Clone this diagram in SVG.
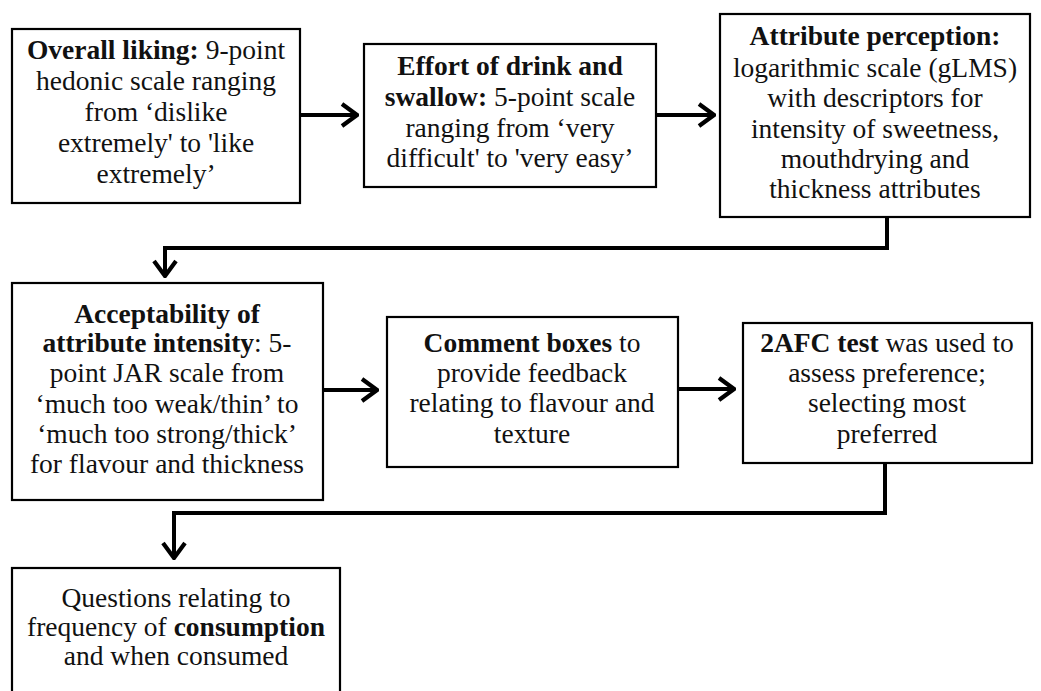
<svg xmlns="http://www.w3.org/2000/svg" width="1041" height="691" viewBox="0 0 1041 691">
<defs>
<style>
.box{fill:#fff;stroke:#000;stroke-width:2.2}
.t{font-family:"Liberation Serif","Times New Roman",serif;font-size:27.5px;fill:#111;text-anchor:middle}
.b{font-weight:bold}
.c{fill:none;stroke:#000;stroke-width:4}
</style>
<marker id="ah" viewBox="0 0 20 26" refX="18" refY="13" markerWidth="20" markerHeight="26" markerUnits="userSpaceOnUse" orient="auto">
<path d="M3,2 L18,13 L3,24" fill="none" stroke="#000" stroke-width="4.2"/>
</marker>
</defs>
<rect width="1041" height="691" fill="#fff"/>
<g id="connectors">
<line class="c" x1="300" y1="115" x2="357" y2="115" marker-end="url(#ah)"/>
<line class="c" x1="656" y1="115" x2="714" y2="115" marker-end="url(#ah)"/>
<path class="c" d="M887,217 V248 H165 V276" marker-end="url(#ah)"/>
<line class="c" x1="323" y1="390" x2="377" y2="390" marker-end="url(#ah)"/>
<line class="c" x1="678" y1="389" x2="734" y2="389" marker-end="url(#ah)"/>
<path class="c" d="M885,463 V513 H174 V558" marker-end="url(#ah)"/>
</g>
<g id="n1">
<rect class="box" x="12" y="29" width="288" height="174"/>
<text class="t" x="156" y="59"><tspan class="b">Overall liking:</tspan> 9-point</text>
<text class="t" x="156" y="90">hedonic scale ranging</text>
<text class="t" x="156" y="121">from ‘dislike</text>
<text class="t" x="156" y="152">extremely' to 'like</text>
<text class="t" x="156" y="183">extremely’</text>
</g>
<g id="n2">
<rect class="box" x="364" y="44" width="292" height="143"/>
<text class="t" x="510" y="75" font-weight="bold">Effort of drink and</text>
<text class="t" x="510" y="106"><tspan class="b">swallow:</tspan> 5-point scale</text>
<text class="t" x="510" y="137">ranging from ‘very</text>
<text class="t" x="510" y="167">difficult' to 'very easy’</text>
</g>
<g id="n3">
<rect class="box" x="720" y="14" width="310" height="203"/>
<text class="t" x="875" y="45" font-weight="bold">Attribute perception:</text>
<text class="t" x="875" y="77">logarithmic scale (gLMS)</text>
<text class="t" x="875" y="107">with descriptors for</text>
<text class="t" x="875" y="138">intensity of sweetness,</text>
<text class="t" x="875" y="168">mouthdrying and</text>
<text class="t" x="875" y="198">thickness attributes</text>
</g>
<g id="n4">
<rect class="box" x="12" y="283" width="311" height="217"/>
<text class="t" x="167" y="323" font-weight="bold">Acceptability of</text>
<text class="t" x="167" y="352"><tspan class="b">attribute intensity</tspan>: 5-</text>
<text class="t" x="167" y="382">point JAR scale from</text>
<text class="t" x="167" y="413">‘much too weak/thin’ to</text>
<text class="t" x="167" y="443">‘much too strong/thick’</text>
<text class="t" x="167" y="473">for flavour and thickness</text>
</g>
<g id="n5">
<rect class="box" x="387" y="317" width="291" height="150"/>
<text class="t" x="532" y="352"><tspan class="b">Comment boxes</tspan> to</text>
<text class="t" x="532" y="382">provide feedback</text>
<text class="t" x="532" y="412">relating to flavour and</text>
<text class="t" x="532" y="443">texture</text>
</g>
<g id="n6">
<rect class="box" x="743" y="323" width="289" height="140"/>
<text class="t" x="887" y="352"><tspan class="b">2AFC test</tspan> was used to</text>
<text class="t" x="887" y="382">assess preference;</text>
<text class="t" x="887" y="412">selecting most</text>
<text class="t" x="887" y="443">preferred</text>
</g>
<g id="n7">
<rect class="box" x="12" y="568" width="328" height="140"/>
<text class="t" x="176" y="607">Questions relating to</text>
<text class="t" x="176" y="636">frequency of <tspan class="b">consumption</tspan></text>
<text class="t" x="176" y="665">and when consumed</text>
</g>
</svg>
